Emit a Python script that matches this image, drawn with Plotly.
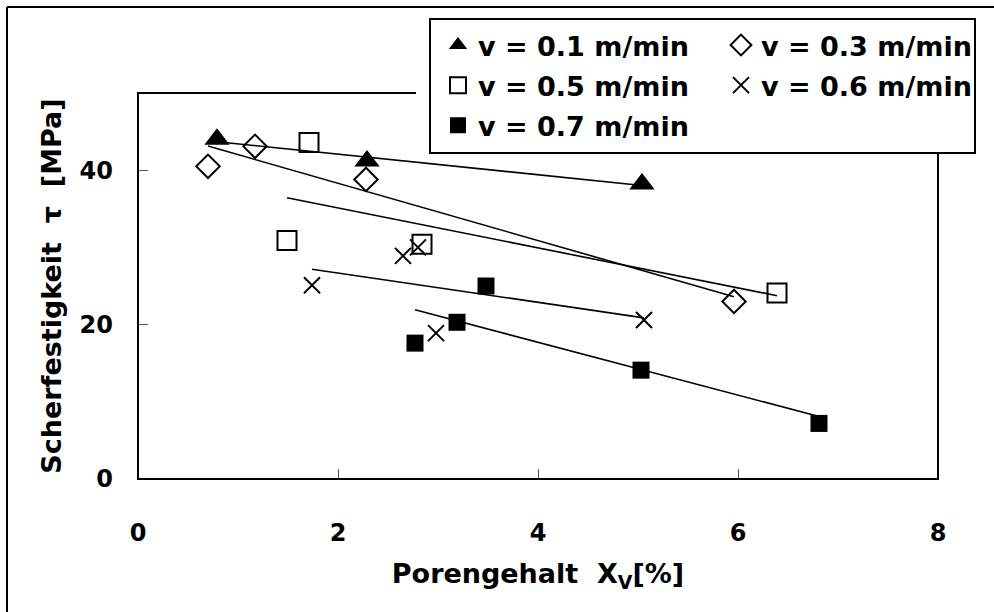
import numpy as np
import plotly.graph_objects as go

# ---------------- data ----------------
series_names = ["v = 0.1 m/min", "v = 0.3 m/min", "v = 0.5 m/min",
                "v = 0.6 m/min", "v = 0.7 m/min"]
x_v01 = [0.79, 2.29, 5.04]
y_v01 = [44.0, 41.2, 38.2]
x_v03 = [0.70, 1.17, 2.28, 5.96]
y_v03 = [40.5, 43.1, 38.8, 23.0]
x_v05 = [1.71, 1.49, 2.84, 6.39]
y_v05 = [43.6, 30.9, 30.4, 24.1]
x_v06 = [1.74, 2.65, 2.80, 2.98, 5.06]
y_v06 = [25.1, 28.9, 30.0, 18.9, 20.6]
x_v07 = [2.77, 3.19, 3.48, 5.03, 6.81]
y_v07 = [17.6, 20.3, 25.0, 14.1, 7.2]
x_ticks = [0, 2, 4, 6, 8]
y_ticks = [0, 20, 40]
x_title = "Porengehalt\u00a0\u00a0X<sub>V</sub>[%]"
y_title = "Scherfestigkeit\u00a0\u00a0τ\u00a0\u00a0[MPa]"

# ---------------- layout geometry ----------------
W, H = 994, 612
L, R, T, B = 138, 938, 93, 479          # plot area in pixels


def px(x):
    return (x - L) / (R - L)


def py(y):
    return (B - y) / (B - T)


FONT = "DejaVu Sans"
fig = go.Figure()

series = [
    (x_v01, y_v01, dict(symbol="triangle-up", size=22, color="black"), "legend"),
    (x_v03, y_v03, dict(symbol="diamond-open", size=18, color="black",
                        line=dict(color="black", width=2)), "legend2"),
    (x_v05, y_v05, dict(symbol="square-open", size=19, color="black",
                        line=dict(color="black", width=2)), "legend"),
    (x_v06, y_v06, dict(symbol="x-thin-open", size=16, color="black",
                        line=dict(color="black", width=2)), "legend2"),
    (x_v07, y_v07, dict(symbol="square", size=17, color="black"), "legend"),
]

# linear trend lines (fitted from each series, drawn over its x span)
for xs, ys, _, _ in series:
    k, d = np.polyfit(xs, ys, 1)
    xe = np.array([min(xs), max(xs)])
    fig.add_trace(go.Scatter(x=xe, y=k * xe + d, mode="lines",
                             line=dict(color="black", width=1.6),
                             showlegend=False, hoverinfo="skip"))

for i, (xs, ys, mk, lg) in enumerate(series):
    fig.add_trace(go.Scatter(x=xs, y=ys, mode="markers", marker=mk,
                             name=series_names[i], legend=lg,
                             legendgroup="g%d" % i))

shapes = [
    # outer chart frame (top and left visible)
    dict(type="line", xref="paper", yref="paper", x0=px(7), x1=px(1000),
         y0=py(7), y1=py(7), line=dict(color="black", width=2)),
    dict(type="line", xref="paper", yref="paper", x0=px(7), x1=px(7),
         y0=py(7), y1=py(620), line=dict(color="black", width=2)),
    # plot area frame
    dict(type="rect", xref="paper", yref="paper", x0=0, x1=1, y0=0, y1=1,
         line=dict(color="black", width=2), layer="above"),
    # legend white area + border
    dict(type="rect", xref="paper", yref="paper", x0=px(416), x1=px(985),
         y0=py(14), y1=py(154), fillcolor="white", line=dict(width=0),
         layer="above"),
    dict(type="rect", xref="paper", yref="paper", x0=px(430), x1=px(975),
         y0=py(19), y1=py(153), fillcolor="white",
         line=dict(color="black", width=2), layer="above"),
]

legend_common = dict(
    bgcolor="rgba(0,0,0,0)", borderwidth=0, xanchor="left", yanchor="top",
    font=dict(family=FONT, size=27, color="black", weight="bold"),
    traceorder="grouped", tracegroupgap=2, itemwidth=30,
)

fig.update_layout(
    width=W, height=H,
    margin=dict(l=L, r=W - R, t=T, b=H - B, autoexpand=False),
    paper_bgcolor="white", plot_bgcolor="white",
    showlegend=True,
    legend=dict(x=px(438), y=py(21), **legend_common),
    legend2=dict(x=px(721), y=py(21), **legend_common),
    shapes=shapes,
    xaxis=dict(range=[0, 8], tickvals=x_ticks, ticks="inside", ticklen=10,
               tickcolor="#555", tickwidth=1, showgrid=False, zeroline=False,
               showline=False, ticklabelstandoff=37,
               tickfont=dict(family=FONT, size=24, color="black", weight="bold"),
               title=dict(text=x_title, standoff=18,
                          font=dict(family=FONT, size=27, color="black",
                                    weight="bold"))),
    yaxis=dict(range=[0, 50], tickvals=y_ticks, ticks="inside", ticklen=10,
               tickcolor="#555", tickwidth=1, showgrid=False, zeroline=False,
               showline=False, ticklabelstandoff=24,
               tickfont=dict(family=FONT, size=24, color="black", weight="bold"),
               title=dict(text=y_title, standoff=10,
                          font=dict(family=FONT, size=27, color="black",
                                    weight="bold"))),
)

fig.write_html("out.html", config={"displayModeBar": False},
               post_script="document.body.style.margin='0';"
                           "document.body.style.overflow='hidden';")
